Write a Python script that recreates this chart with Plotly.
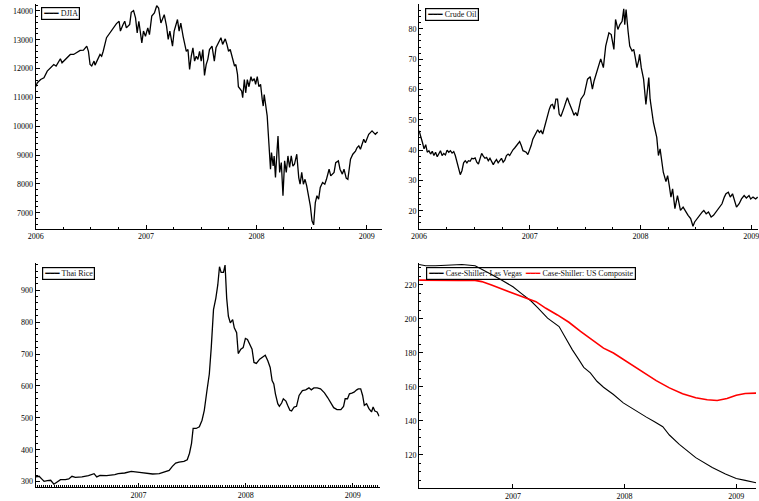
import plotly.graph_objects as go

# ---------------- DATA ----------------
djia_year = [
    2006.000, 2006.015, 2006.045, 2006.075, 2006.105, 2006.134, 2006.164, 2006.185, 2006.224, 2006.239,
    2006.269, 2006.314, 2006.344, 2006.373, 2006.403, 2006.433, 2006.448, 2006.463, 2006.478, 2006.493,
    2006.508, 2006.529, 2006.538, 2006.568, 2006.583, 2006.598, 2006.612, 2006.642, 2006.672, 2006.702,
    2006.732, 2006.756, 2006.768, 2006.792, 2006.807, 2006.822, 2006.852, 2006.866, 2006.887, 2006.905,
    2006.920, 2006.935, 2006.947, 2006.962, 2006.977, 2006.995, 2007.016, 2007.031, 2007.052, 2007.076,
    2007.097, 2007.114, 2007.135, 2007.150, 2007.165, 2007.186, 2007.201, 2007.216, 2007.231, 2007.240,
    2007.255, 2007.285, 2007.300, 2007.315, 2007.336, 2007.353, 2007.365, 2007.380, 2007.395, 2007.410,
    2007.425, 2007.440, 2007.455, 2007.470, 2007.485, 2007.500, 2007.515, 2007.530, 2007.545, 2007.560,
    2007.575, 2007.598, 2007.619, 2007.634, 2007.658, 2007.679, 2007.694, 2007.718, 2007.733, 2007.748,
    2007.763, 2007.784, 2007.802, 2007.814, 2007.829, 2007.837, 2007.852, 2007.867, 2007.876, 2007.891,
    2007.903, 2007.918, 2007.933, 2007.951, 2007.963, 2007.981, 2007.993, 2008.008, 2008.023, 2008.038,
    2008.053, 2008.062, 2008.071, 2008.083, 2008.098, 2008.113, 2008.128, 2008.137, 2008.152, 2008.161,
    2008.173, 2008.188, 2008.196, 2008.211, 2008.226, 2008.241, 2008.256, 2008.271, 2008.286, 2008.301,
    2008.316, 2008.331, 2008.345, 2008.366, 2008.384, 2008.396, 2008.411, 2008.426, 2008.441, 2008.456,
    2008.474, 2008.489, 2008.504, 2008.519, 2008.534, 2008.549, 2008.564, 2008.579, 2008.600, 2008.620,
    2008.635, 2008.659, 2008.674, 2008.689, 2008.704, 2008.719, 2008.743, 2008.758, 2008.779, 2008.794,
    2008.814, 2008.829, 2008.853, 2008.874, 2008.898, 2008.913, 2008.928, 2008.943, 2008.958, 2008.973,
    2008.988, 2009.003, 2009.018, 2009.033, 2009.048, 2009.063, 2009.078, 2009.099,
]
djia_value = [
    11370, 11510, 11620, 11680, 11910, 12030, 12140, 12090, 12340, 12200,
    12320, 12490, 12490, 12550, 12630, 12640, 12720, 12780, 12600, 12140,
    12090, 12260, 12120, 12370, 12490, 12430, 12600, 13070, 13240, 13410,
    13560, 13640, 13300, 13530, 13640, 13410, 13530, 13950, 14010, 13760,
    13240, 13640, 13240, 12890, 13300, 13120, 13410, 13180, 13820, 13930,
    14180, 14100, 13580, 13760, 13870, 13470, 13010, 13300, 13010, 12780,
    13300, 13700, 13300, 13580, 13120, 12840, 12600, 12660, 11970, 12430,
    12720, 12260, 12430, 12320, 12600, 12260, 12660, 11760, 12140, 12320,
    12660, 12780, 12260, 12720, 12890, 13070, 12840, 13030, 12840, 12600,
    12660, 12370, 12090, 12140, 11800, 11370, 11280, 11220, 10990, 11620,
    11160, 11620, 11370, 11720, 11570, 11650, 11450, 11720, 11370, 11450,
    10930, 10700, 11100, 10820, 10360, 9430, 8510, 9090, 8620, 8970,
    8220, 9200, 9660, 8400, 8740, 7590, 8800, 8400, 8970, 8570,
    8970, 8620, 8680, 9030, 8220, 7990, 8400, 7990, 8160, 7930,
    7530, 7240, 6720, 6580, 7350, 7590, 7470, 7880, 8050, 7990,
    8160, 8510, 8280, 8340, 8400, 8740, 8800, 8510, 8340, 8510,
    8200, 8160, 8860, 9030, 9140, 9260, 9320, 9200, 9370, 9550,
    9430, 9610, 9720, 9780, 9840, 9780, 9720, 9800,
]

oil_year = [
    2006.000, 2006.015, 2006.030, 2006.045, 2006.060, 2006.074, 2006.089, 2006.104, 2006.119, 2006.134,
    2006.149, 2006.164, 2006.179, 2006.193, 2006.208, 2006.223, 2006.238, 2006.253, 2006.268, 2006.283,
    2006.298, 2006.313, 2006.327, 2006.342, 2006.357, 2006.372, 2006.387, 2006.402, 2006.417, 2006.432,
    2006.446, 2006.461, 2006.476, 2006.491, 2006.506, 2006.521, 2006.536, 2006.551, 2006.565, 2006.580,
    2006.595, 2006.610, 2006.625, 2006.640, 2006.655, 2006.670, 2006.685, 2006.699, 2006.714, 2006.729,
    2006.744, 2006.759, 2006.774, 2006.789, 2006.804, 2006.818, 2006.833, 2006.848, 2006.863, 2006.878,
    2006.893, 2006.908, 2006.923, 2006.938, 2006.952, 2006.967, 2006.982, 2006.997, 2007.012, 2007.027,
    2007.042, 2007.057, 2007.071, 2007.086, 2007.101, 2007.116, 2007.131, 2007.146, 2007.161, 2007.176,
    2007.190, 2007.205, 2007.220, 2007.235, 2007.250, 2007.265, 2007.280, 2007.295, 2007.310, 2007.324,
    2007.339, 2007.354, 2007.369, 2007.384, 2007.399, 2007.414, 2007.429, 2007.443,
    2007.461, 2007.491, 2007.521, 2007.545, 2007.565, 2007.580, 2007.610, 2007.640, 2007.664, 2007.685,
    2007.714, 2007.735, 2007.759, 2007.774, 2007.795, 2007.813, 2007.833, 2007.848, 2007.857, 2007.869,
    2007.887, 2007.902, 2007.923, 2007.938, 2007.952, 2007.967, 2007.982, 2007.991, 2008.006, 2008.027,
    2008.048, 2008.063, 2008.074, 2008.086, 2008.116, 2008.146, 2008.161, 2008.176, 2008.190, 2008.205,
    2008.229, 2008.244, 2008.259, 2008.274, 2008.289, 2008.310, 2008.333, 2008.348, 2008.360, 2008.384,
    2008.408, 2008.429, 2008.452, 2008.473, 2008.488, 2008.509, 2008.533, 2008.557, 2008.571, 2008.592,
    2008.613, 2008.637, 2008.658, 2008.682, 2008.711, 2008.735, 2008.756, 2008.771, 2008.792, 2008.810,
    2008.830, 2008.851, 2008.866, 2008.890, 2008.911, 2008.935, 2008.955, 2008.979, 2008.994, 2009.015,
    2009.039, 2009.057,
]
oil_value = [
    46.4, 44.7, 42.6, 40.4, 41.8, 39.3, 39.8, 38.7, 39.6, 38.2,
    39.3, 37.8, 38.7, 39.8, 38.2, 38.9, 38.4, 40.0, 39.3, 39.8,
    39.0, 39.5, 38.2, 36.0, 33.2, 31.9, 33.2, 35.8, 36.5, 35.8,
    36.5, 36.3, 37.3, 37.1, 37.4, 36.0, 35.4, 37.1, 38.9, 38.0,
    37.3, 37.6, 36.5, 37.3, 36.0, 35.2, 36.2, 36.9, 35.8, 36.4,
    37.3, 36.0, 36.7, 38.2, 38.7, 38.2, 39.3, 40.1, 40.7, 41.5,
    42.2, 42.8, 41.5, 39.8, 39.6, 39.3, 38.5, 39.8, 41.5, 43.6,
    44.7, 45.8, 46.7, 45.8, 46.4, 45.3, 47.5, 49.7, 51.9, 53.5,
    54.8, 55.1, 53.5, 56.8, 56.8, 51.9, 51.1, 53.0, 54.1, 55.7,
    57.3, 55.7, 54.6, 53.0, 51.5, 52.4, 51.3, 53.5,
    56.8, 58.4, 63.4, 64.2, 60.1, 62.8, 66.1, 70.1, 67.2, 74.3,
    78.7, 78.1, 73.2, 83.1, 79.8, 81.4, 82.5, 86.6, 81.4, 86.4,
    79.2, 74.3, 72.7, 73.2, 70.5, 67.2, 69.4, 71.6, 67.2, 63.4,
    55.1, 61.7, 63.9, 56.8, 49.1, 44.2, 38.2, 40.4, 36.0, 32.7,
    29.6, 31.6, 28.3, 24.5, 27.2, 20.7, 25.0, 21.7, 20.1, 21.2,
    19.6, 18.5, 17.4, 14.9, 16.3, 17.4, 18.5, 19.6, 20.1, 19.0,
    19.6, 17.9, 18.5, 19.6, 21.2, 22.3, 24.5, 25.6, 26.1, 24.5,
    25.6, 22.8, 21.2, 22.3, 23.9, 25.0, 24.2, 25.0, 23.9, 24.5,
    23.9, 24.5,
]

rice_year = [
    2006.041, 2006.072, 2006.103, 2006.118, 2006.149, 2006.180, 2006.210, 2006.241, 2006.272, 2006.318,
    2006.349, 2006.379, 2006.410, 2006.472, 2006.533, 2006.585, 2006.610, 2006.641, 2006.702, 2006.779,
    2006.810, 2006.871, 2006.932, 2007.009, 2007.086, 2007.132, 2007.194, 2007.240, 2007.286, 2007.316,
    2007.347, 2007.378, 2007.424, 2007.455, 2007.476, 2007.495, 2007.510, 2007.538, 2007.568, 2007.593,
    2007.614, 2007.639, 2007.661, 2007.679, 2007.700, 2007.722, 2007.740, 2007.756, 2007.771, 2007.793,
    2007.808, 2007.823, 2007.839, 2007.857, 2007.879, 2007.894, 2007.916, 2007.931, 2007.955, 2007.977,
    2007.998, 2008.017, 2008.038, 2008.060, 2008.078, 2008.100, 2008.131, 2008.161, 2008.183, 2008.207,
    2008.229, 2008.247, 2008.263, 2008.278, 2008.300, 2008.315, 2008.336, 2008.352, 2008.376, 2008.392,
    2008.413, 2008.429, 2008.453, 2008.475, 2008.499, 2008.530, 2008.561, 2008.591, 2008.613, 2008.637,
    2008.668, 2008.699, 2008.736, 2008.767, 2008.791, 2008.822, 2008.853, 2008.889, 2008.914, 2008.929,
    2008.951, 2008.969, 2008.991, 2009.012, 2009.037, 2009.052, 2009.074, 2009.092, 2009.108, 2009.129,
    2009.151, 2009.175, 2009.190, 2009.206, 2009.227, 2009.246,
]
rice_value = [
    314.7, 316.7, 306.4, 301.2, 303.3, 304.3, 291.9, 298.1, 306.4, 306.4,
    308.5, 316.7, 313.6, 314.7, 318.8, 325.0, 314.7, 319.8, 318.8, 321.9,
    325.0, 327.1, 332.3, 329.2, 327.1, 324.0, 325.0, 329.2, 335.4, 347.8,
    358.1, 361.2, 363.3, 368.5, 389.1, 420.2, 466.7, 466.7, 471.9, 492.6,
    523.6, 585.6, 637.3, 720.1, 839.0, 875.2, 916.5, 973.4, 955.8, 955.8,
    978.6, 875.2, 818.3, 797.6, 808.0, 782.1, 766.6, 701.4, 714.9, 720.1,
    749.0, 745.9, 730.4, 714.9, 673.5, 670.4, 683.9, 691.1, 696.3, 678.7,
    658.0, 616.7, 606.3, 575.3, 544.3, 536.0, 546.3, 559.8, 552.5, 539.1,
    523.6, 521.5, 533.9, 536.0, 570.1, 585.6, 587.7, 593.9, 587.7, 593.9,
    593.9, 590.8, 578.4, 562.9, 549.4, 531.9, 525.6, 525.6, 536.0, 559.8,
    559.8, 575.3, 577.4, 580.4, 587.7, 590.8, 590.8, 570.1, 539.1, 544.3,
    528.8, 518.4, 533.9, 521.5, 518.4, 505.0,
]

lv_year = [
    2006.159, 2006.218, 2006.307, 2006.425, 2006.543, 2006.661, 2006.720, 2006.808, 2006.897, 2007.000,
    2007.074, 2007.162, 2007.221, 2007.310, 2007.413, 2007.472, 2007.531, 2007.590, 2007.634, 2007.693,
    2007.752, 2007.811, 2007.900, 2007.988, 2008.047, 2008.106, 2008.195, 2008.268, 2008.342, 2008.401,
    2008.490, 2008.637, 2008.785, 2008.903, 2009.000, 2009.080, 2009.177,
]
lv_value = [
    232.0, 231.2, 231.2, 231.6, 232.0, 231.2, 229.3, 226.1, 222.8, 218.9,
    215.0, 210.5, 206.6, 200.4, 195.5, 188.7, 181.9, 176.0, 171.5, 168.2,
    163.3, 159.8, 155.5, 150.6, 148.1, 145.8, 142.2, 139.5, 136.6, 131.7,
    126.2, 118.4, 112.6, 108.7, 106.1, 105.0, 103.6,
]

us_year = [
    2006.159, 2006.277, 2006.395, 2006.513, 2006.661, 2006.720, 2006.808, 2006.897, 2007.000, 2007.103,
    2007.206, 2007.295, 2007.398, 2007.501, 2007.605, 2007.708, 2007.811, 2007.900, 2008.003, 2008.150,
    2008.283, 2008.401, 2008.519, 2008.637, 2008.740, 2008.829, 2008.917, 2009.000, 2009.080, 2009.177,
]
us_value = [
    222.8, 222.6, 222.4, 222.6, 222.6, 221.9, 219.9, 217.6, 215.0, 212.5,
    210.1, 206.2, 202.3, 198.0, 192.6, 187.7, 182.8, 179.9, 175.4, 169.2,
    163.7, 159.4, 155.9, 153.6, 152.4, 152.0, 153.2, 155.1, 156.1, 156.3,
]

year_ticks = [2006, 2007, 2008, 2009]
year_labels = ["2006", "2007", "2008", "2009"]

series_names = ["DJIA", "Crude Oil", "Thai Rice",
                "Case-Shiller: Las Vegas", "Case-Shiller: US Composite"]

# ---------------- FIGURE ----------------
W, H = 759, 501
FONT = "Liberation Serif"


def dx(a, b):
    return [a / W, b / W]


def dy(top, bottom):
    return [1 - bottom / H, 1 - top / H]


fig = go.Figure()
fig.add_trace(go.Scatter(x=djia_year, y=djia_value, mode="lines", name=series_names[0],
                         line=dict(color="black", width=1.3), xaxis="x", yaxis="y"))
fig.add_trace(go.Scatter(x=oil_year, y=oil_value, mode="lines", name=series_names[1],
                         line=dict(color="black", width=1.3), xaxis="x2", yaxis="y2"))
fig.add_trace(go.Scatter(x=rice_year, y=rice_value, mode="lines", name=series_names[2],
                         line=dict(color="black", width=1.3), xaxis="x3", yaxis="y3"))
fig.add_trace(go.Scatter(x=lv_year, y=lv_value, mode="lines", name=series_names[3],
                         line=dict(color="black", width=1.1), xaxis="x4", yaxis="y4"))
fig.add_trace(go.Scatter(x=us_year, y=us_value, mode="lines", name=series_names[4],
                         line=dict(color="red", width=1.6), xaxis="x4", yaxis="y4"))

tickfont = dict(family=FONT, size=8, color="black")
base = dict(showline=True, linecolor="black", linewidth=1.1, ticks="inside", ticklen=4,
            tickwidth=1, tickcolor="black", showgrid=False, zeroline=False,
            tickfont=tickfont, fixedrange=True, ticklabeloverflow="allow")


def xax(domain, rng, anchor, minor_dtick):
    d = dict(base, domain=domain, range=rng, anchor=anchor, tickmode="array",
             tickvals=year_ticks, ticktext=year_labels)
    if minor_dtick:
        d["minor"] = dict(dtick=minor_dtick, tick0=2006, ticks="inside", ticklen=2,
                          tickcolor="black", tickwidth=1, showgrid=False)
    return d


def yax(domain, rng, anchor, dtick, minor):
    return dict(base, domain=domain, range=rng, anchor=anchor, dtick=dtick, tickformat="d",
                minor=dict(dtick=minor, ticks="inside", ticklen=2, tickcolor="black",
                           tickwidth=1, showgrid=False))


def sample(color):
    return ("<span style='font-family:DejaVu Sans;color:%s'>\u2501\u2501\u2501</span>" % color)


def legend_box(text, x_px, y_px):
    return dict(xref="paper", yref="paper", x=x_px / W, y=1 - y_px / H,
                xanchor="left", yanchor="top", showarrow=False, align="left",
                text=text, font=dict(family=FONT, size=8, color="#111"),
                bordercolor="black", borderwidth=1.2, borderpad=1,
                bgcolor="rgba(255,255,255,0)")


annotations = [
    legend_box(sample("black") + " " + series_names[0], 33, 7),
    legend_box(sample("black") + " " + series_names[1], 422, 8),
    legend_box(sample("black") + " " + series_names[2], 34, 269),
    legend_box(sample("black") + " " + series_names[3] + "  " + sample("red") + " "
               + series_names[4], 423, 269),
]

fig.update_layout(
    width=W, height=H, margin=dict(l=0, r=0, t=0, b=0),
    paper_bgcolor="white", plot_bgcolor="white",
    font=dict(family=FONT, size=8, color="black"),
    showlegend=False,
    xaxis=xax(dx(28, 378), [2006, 2009.134], "y", 0.25),
    yaxis=yax(dy(4, 230), [6450, 14240], "x", 1000, 200),
    xaxis2=xax(dx(416, 759), [2006, 2009.06], "y2", 0.25),
    yaxis2=yax(dy(4, 230), [14.1, 88.2], "x2", 10, 2),
    xaxis3=xax(dx(28, 376), [2006.04, 2009.25], "y3", 1 / 52),
    yaxis3=yax(dy(265, 490), [283, 984], "x3", 100, 20),
    xaxis4=xax(dx(416, 757), [2006.159, 2009.177], "y4", None),
    yaxis4=yax(dy(265, 491), [100.5, 232.6], "x4", 20, 5),
    annotations=annotations,
)

fig.write_html("out.html")
